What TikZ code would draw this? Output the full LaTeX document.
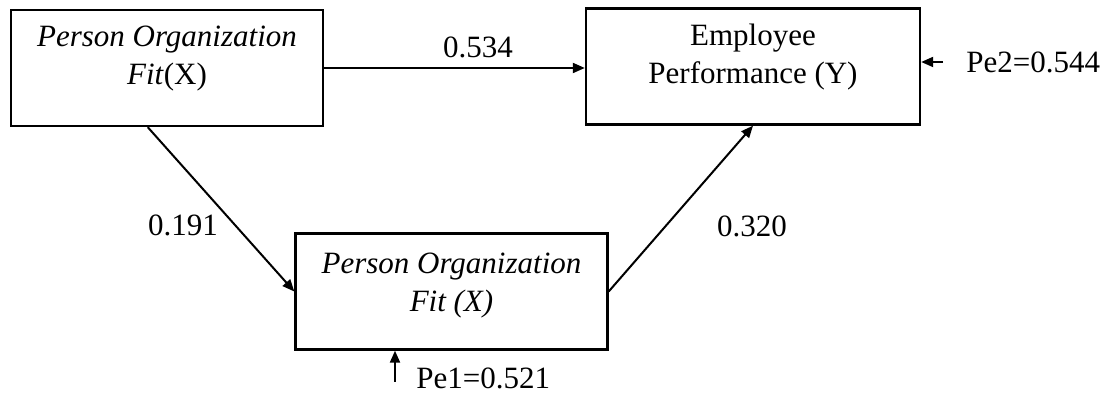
\documentclass[tikz,border=0pt]{standalone}
\usepackage{fontspec}
\setmainfont{Liberation Serif}
\usetikzlibrary{arrows.meta}
\tikzset{
  box/.style={draw,line width=1.2pt,minimum width=156pt,minimum height=58pt,inner sep=0pt},
  lbl/.style={font=\fontsize{15.5}{19}\selectfont,inner sep=0pt},
  arr/.style={line width=1pt,-{Triangle[length=6pt,width=5pt]}}
}
\begin{document}
\begin{tikzpicture}[x=0.5pt,y=-0.5pt]
\useasboundingbox (0,0) rectangle (1110,394);
%boxes
\node[box] (X) at (167,68) {};
\node[box,minimum width=167pt] (Y) at (753,66.5) {};
\node[box] (M) at (451.5,291.5) {};
%box texts
\node[lbl,align=center] (Xt) at (167,59) {\textit{Person Organization}\\\textit{Fit}(X)};
\node[lbl,align=center] (Yt) at (753,57) {Employee\\Performance (Y)};
\node[lbl,align=center] (Mt) at (451.5,286) {\textit{Person Organization}\\\textit{Fit (X)}};
%paths
\draw[arr] (X.east) -- (Y.west|-X.east);
\draw[arr] (X.252) -- (M.west);
\draw[arr] (M.east) -- (Y.south);
\node[lbl] (b1) at (478,47) {0.534};
\node[lbl] (b2) at (183,225) {0.191};
\node[lbl] (b3) at (752,226) {0.320};
%errors
\node[lbl,anchor=west] (e2) at (966,62) {Pe2=0.544};
\coordinate (e2s) at (943,62);
\draw[arr] (e2s) -- (Y.east|-e2s);
\node[lbl,anchor=west] (e1) at (416,378) {Pe1=0.521};
\coordinate (e1s) at (395,382);
\draw[arr] (e1s) -- (M.south-|e1s);
\end{tikzpicture}
\end{document}
